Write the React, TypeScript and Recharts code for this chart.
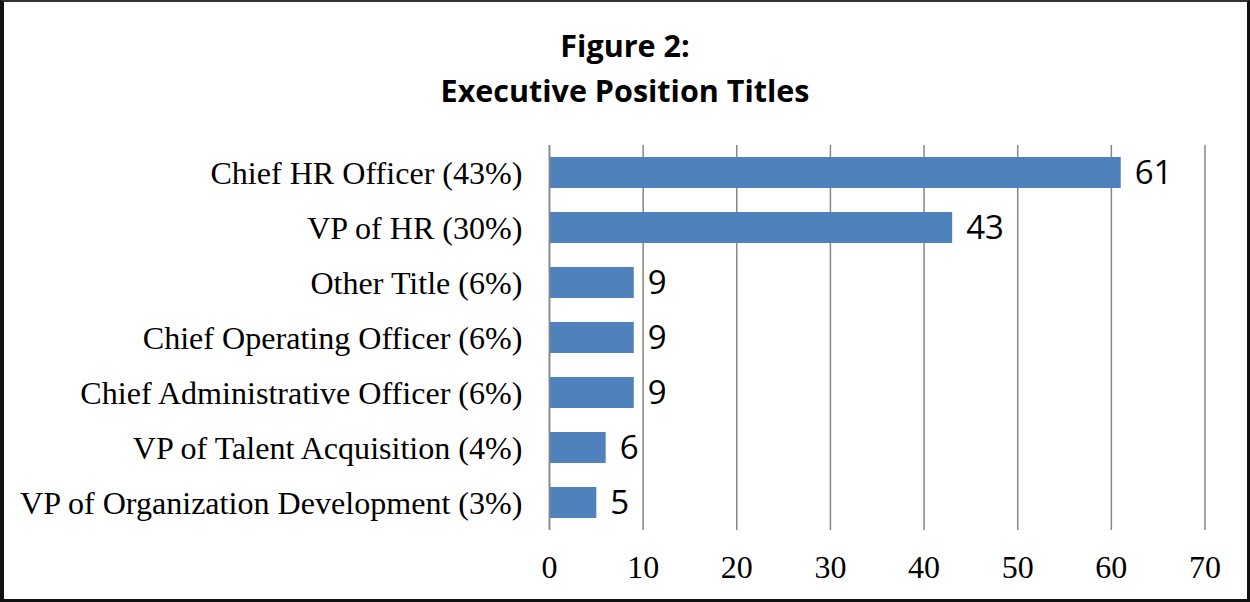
import React from 'react';
import { BarChart, Bar, XAxis, YAxis, CartesianGrid, LabelList } from 'recharts';

const categories = [
  'Chief HR Officer (43%)',
  'VP of HR (30%)',
  'Other Title (6%)',
  'Chief Operating Officer (6%)',
  'Chief Administrative Officer (6%)',
  'VP of Talent Acquisition (4%)',
  'VP of Organization Development (3%)',
];
const counts = [61, 43, 9, 9, 9, 6, 5];
const xTicks = [0, 10, 20, 30, 40, 50, 60, 70];
const titleLines = ['Figure 2:', 'Executive Position Titles'];

const data = categories.map((name, i) => ({ name, value: counts[i] }));

const W = 1250;
const H = 602;
const serif = '"Liberation Serif", "Times New Roman", serif';
const sans = '"Open Sans", "Noto Sans", sans-serif';

export default function App() {
  return (
    <div
      style={{
        position: 'absolute',
        left: 0,
        top: 0,
        width: W,
        height: H,
        background: '#fff',
        overflow: 'hidden',
      }}
    >
      <BarChart
        width={W}
        height={H}
        data={data}
        layout="vertical"
        margin={{ top: 145, right: 45, bottom: 0, left: 0 }}
        barCategoryGap="22%"
      >
        <CartesianGrid horizontal={false} vertical={true} stroke="#868686" strokeWidth={1.5} />
        <XAxis
          type="number"
          domain={[0, 70]}
          ticks={xTicks}
          axisLine={false}
          tickLine={false}
          tickMargin={19}
          height={72}
          interval={0}
          tick={{ fontFamily: serif, fontSize: 32, fill: '#000' }}
        />
        <YAxis
          type="category"
          dataKey="name"
          width={549.5}
          axisLine={{ stroke: '#868686', strokeWidth: 1.5 }}
          tickLine={false}
          tickMargin={21}
          interval={0}
          tick={{ fontFamily: serif, fontSize: 32.1, fill: '#000' }}
        />
        <Bar dataKey="value" fill="#4F81BD" isAnimationActive={false}>
          <LabelList
            dataKey="value"
            position="right"
            offset={14}
            style={{ fontFamily: sans, fontSize: 33, fill: '#000' }}
          />
        </Bar>
      </BarChart>
      <div
        style={{
          position: 'absolute',
          left: 0,
          top: 23,
          width: W,
          textAlign: 'center',
          fontFamily: sans,
          fontWeight: 700,
          fontSize: 30.5,
          lineHeight: '45px',
          color: '#000',
        }}
      >
        {titleLines.map((t) => (
          <div key={t}>{t}</div>
        ))}
      </div>
      <div
        style={{
          position: 'absolute',
          left: 0,
          top: 0,
          width: W,
          height: H,
          boxSizing: 'border-box',
          borderLeft: '4px solid #111',
          borderTop: '2px solid #333',
          borderRight: '3px solid #111',
          borderBottom: '3px solid #111',
          pointerEvents: 'none',
        }}
      />
    </div>
  );
}
